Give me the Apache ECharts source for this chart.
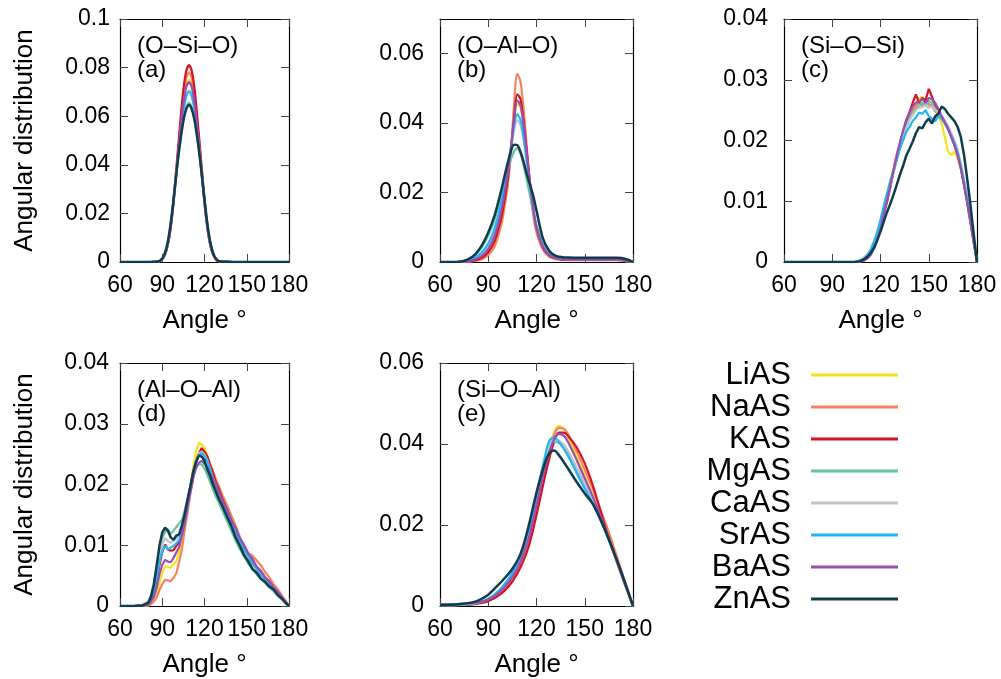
<!DOCTYPE html>
<html><head><meta charset="utf-8">
<script src="https://cdn.jsdelivr.net/npm/echarts@6/dist/echarts.min.js"></script>
<style>html,body{margin:0;padding:0;background:#fff}#c{width:1001px;height:679px}</style>
</head><body><div id="c"></div><script>
const FONT = 'Liberation Sans, Arial, Helvetica, sans-serif';
const names = ['LiAS', 'NaAS', 'KAS', 'MgAS', 'CaAS', 'SrAS', 'BaAS', 'ZnAS'];
const colors = ['#f5e11e', '#f5845a', '#d41424', '#66c2a0', '#c0c3c7', '#25b5f5', '#9650b5', '#103c4c'];
const panelTitles = ['(O\u2013Si\u2013O)', '(O\u2013Al\u2013O)', '(Si\u2013O\u2013Si)', '(Al\u2013O\u2013Al)', '(Si\u2013O\u2013Al)'];
const panelLetters = ['(a)', '(b)', '(c)', '(d)', '(e)'];
const xTicks = [60, 90, 120, 150, 180];
const yMax = [0.1, 0.07, 0.04, 0.04, 0.06];
const yStep = [0.02, 0.02, 0.01, 0.01, 0.02];

// (a) O-Si-O
const A_x = [60, 80, 85, 87, 89, 91, 93, 95, 97, 99, 101, 103, 105, 107, 109, 111, 113, 115, 117, 119, 121, 123, 125, 127, 129, 131, 135, 140, 180];
const A_Li = [0, 0, 0.0001, 0.0002, 0.0007, 0.0021, 0.005, 0.0103, 0.0188, 0.0302, 0.0427, 0.055, 0.0658, 0.0728, 0.075, 0.0728, 0.0658, 0.055, 0.0427, 0.0302, 0.0188, 0.0103, 0.005, 0.0021, 0.0007, 0.0002, 0.0001, 0, 0];
const A_Na = [0, 0, 0.0001, 0.0002, 0.0007, 0.002, 0.0049, 0.0102, 0.0188, 0.0305, 0.0435, 0.0565, 0.068, 0.0755, 0.078, 0.0755, 0.068, 0.0565, 0.0435, 0.0305, 0.0188, 0.0102, 0.0049, 0.002, 0.0007, 0.0002, 0.0001, 0, 0];
const A_K = [0, 0, 0.0001, 0.0002, 0.0007, 0.002, 0.005, 0.0105, 0.0195, 0.032, 0.0455, 0.059, 0.071, 0.0785, 0.081, 0.0785, 0.071, 0.059, 0.0458, 0.0325, 0.02, 0.0108, 0.0052, 0.0021, 0.0007, 0.0002, 0.0001, 0, 0];
const A_Mg = [0, 0, 0.0001, 0.0003, 0.0009, 0.0025, 0.0059, 0.0119, 0.0206, 0.0312, 0.0418, 0.051, 0.0586, 0.0636, 0.0655, 0.0636, 0.0586, 0.051, 0.0418, 0.0312, 0.0206, 0.0119, 0.0059, 0.0025, 0.0009, 0.0003, 0.0001, 0, 0];
const A_Ca = [0, 0, 0.0001, 0.0002, 0.0008, 0.0022, 0.0053, 0.0109, 0.0195, 0.0305, 0.042, 0.053, 0.0625, 0.0685, 0.0705, 0.0685, 0.0625, 0.053, 0.042, 0.0305, 0.0195, 0.0109, 0.0053, 0.0022, 0.0008, 0.0002, 0.0001, 0, 0];
const A_Sr = [0, 0, 0.0001, 0.0002, 0.0008, 0.0023, 0.0054, 0.011, 0.0195, 0.0305, 0.0419, 0.0528, 0.0622, 0.068, 0.07, 0.068, 0.0622, 0.0528, 0.0419, 0.0305, 0.0195, 0.011, 0.0054, 0.0023, 0.0008, 0.0002, 0.0001, 0, 0];
const A_Ba = [0, 0, 0.0001, 0.0002, 0.0007, 0.0021, 0.005, 0.0104, 0.0189, 0.0302, 0.0425, 0.0545, 0.065, 0.0718, 0.074, 0.0718, 0.065, 0.0545, 0.0425, 0.0302, 0.0189, 0.0104, 0.005, 0.0021, 0.0007, 0.0002, 0.0001, 0, 0];
const A_Zn = [0, 0, 0.0001, 0.0002, 0.0008, 0.0024, 0.0058, 0.0118, 0.0205, 0.031, 0.0415, 0.0505, 0.058, 0.0628, 0.0646, 0.0628, 0.058, 0.0505, 0.0415, 0.031, 0.0205, 0.0118, 0.0058, 0.0024, 0.0008, 0.0002, 0.0001, 0, 0];

// (b) O-Al-O
const B_x = [60, 70, 74, 78, 82, 86, 90, 94, 98, 100, 102, 104, 106, 108, 110, 112, 114, 116, 118, 120, 124, 128, 132, 136, 140, 150, 160, 170, 176, 180];
const B_Li = [0, 0, 0, 0.0002, 0.0006, 0.0014, 0.0032, 0.0068, 0.0135, 0.0185, 0.024, 0.0315, 0.0398, 0.0455, 0.0445, 0.039, 0.031, 0.0225, 0.0152, 0.0099, 0.0043, 0.0019, 0.001, 0.0007, 0.0006, 0.0006, 0.0006, 0.0006, 0.0004, 0];
const B_Na = [0, 0, 0, 0.0001, 0.0003, 0.0008, 0.002, 0.0045, 0.0105, 0.0155, 0.0215, 0.031, 0.045, 0.0542, 0.052, 0.044, 0.033, 0.0215, 0.0135, 0.0085, 0.0035, 0.0015, 0.0008, 0.0006, 0.0005, 0.0005, 0.0005, 0.0005, 0.0003, 0];
const B_K = [0, 0, 0, 0.0002, 0.0005, 0.0012, 0.0028, 0.006, 0.0125, 0.0175, 0.0235, 0.0315, 0.041, 0.0483, 0.047, 0.0405, 0.0315, 0.0225, 0.015, 0.0098, 0.0042, 0.0018, 0.001, 0.0007, 0.0006, 0.0006, 0.0006, 0.0006, 0.0004, 0];
const B_Mg = [0, 0, 0.0002, 0.0008, 0.002, 0.0042, 0.0076, 0.0123, 0.0188, 0.0225, 0.0262, 0.0295, 0.0318, 0.0328, 0.0312, 0.0278, 0.0235, 0.019, 0.0145, 0.0106, 0.0055, 0.0029, 0.0017, 0.0013, 0.0012, 0.0011, 0.0011, 0.0011, 0.0007, 0];
const B_Ca = [0, 0, 0.0001, 0.0004, 0.0011, 0.0025, 0.0048, 0.009, 0.016, 0.0208, 0.026, 0.0318, 0.0378, 0.0408, 0.0395, 0.035, 0.0285, 0.0215, 0.0152, 0.0102, 0.0047, 0.0022, 0.0012, 0.0009, 0.0008, 0.0008, 0.0008, 0.0008, 0.0005, 0];
const B_Sr = [0, 0, 0.0001, 0.0005, 0.0013, 0.0028, 0.0053, 0.0098, 0.0168, 0.0215, 0.0268, 0.0328, 0.0392, 0.0425, 0.041, 0.036, 0.029, 0.0218, 0.0153, 0.0102, 0.0047, 0.0022, 0.0012, 0.0009, 0.0008, 0.0008, 0.0008, 0.0008, 0.0005, 0];
const B_Ba = [0, 0, 0.0001, 0.0003, 0.0008, 0.0018, 0.0038, 0.0076, 0.0145, 0.0195, 0.025, 0.0325, 0.0408, 0.0465, 0.0452, 0.0395, 0.0312, 0.0226, 0.0153, 0.01, 0.0044, 0.002, 0.0011, 0.0008, 0.0007, 0.0007, 0.0007, 0.0007, 0.0005, 0];
const B_Zn = [0, 0, 0.0002, 0.0009, 0.0023, 0.0048, 0.0085, 0.0135, 0.0205, 0.0245, 0.0283, 0.0318, 0.0338, 0.0337, 0.0318, 0.0288, 0.0252, 0.0222, 0.019, 0.0148, 0.0068, 0.0032, 0.0018, 0.0014, 0.0013, 0.0012, 0.0012, 0.0012, 0.0008, 0];

// (c) Si-O-Si
const C_x = [60, 100, 104, 106, 108, 110, 112, 114, 116, 118, 120, 122, 124, 126, 128, 130, 132, 134, 136, 138, 140, 142, 144, 146, 148, 150, 152, 154, 156, 158, 160, 162, 164, 166, 168, 170, 172, 174, 176, 178, 180];
const C_Li = [0, 0, 0, 0.0001, 0.0002, 0.0005, 0.001, 0.0019, 0.0031, 0.0047, 0.0066, 0.0088, 0.0112, 0.0135, 0.0152, 0.0176, 0.0193, 0.0212, 0.023, 0.0243, 0.0252, 0.0262, 0.027, 0.0272, 0.0264, 0.0258, 0.0262, 0.0255, 0.0242, 0.0228, 0.0205, 0.0182, 0.0176, 0.0181, 0.017, 0.0152, 0.0128, 0.01, 0.0068, 0.0034, 0];
const C_Na = [0, 0, 0, 0.0001, 0.0002, 0.0005, 0.001, 0.0018, 0.003, 0.0045, 0.0063, 0.0084, 0.0106, 0.0128, 0.0152, 0.0176, 0.0196, 0.0214, 0.0228, 0.024, 0.025, 0.0256, 0.0262, 0.0258, 0.0264, 0.026, 0.0256, 0.0248, 0.0244, 0.0236, 0.0228, 0.0218, 0.0206, 0.0194, 0.0178, 0.0156, 0.013, 0.0101, 0.0069, 0.0035, 0];
const C_K = [0, 0, 0, 0, 0.0001, 0.0003, 0.0007, 0.0014, 0.0025, 0.004, 0.0058, 0.008, 0.0098, 0.0122, 0.0148, 0.0168, 0.0192, 0.0214, 0.0232, 0.0246, 0.0262, 0.0276, 0.0262, 0.027, 0.0266, 0.0285, 0.0272, 0.0258, 0.0246, 0.024, 0.023, 0.0222, 0.0206, 0.0192, 0.0176, 0.0154, 0.0126, 0.0096, 0.0064, 0.0032, 0];
const C_Mg = [0, 0, 0, 0.0001, 0.0002, 0.0005, 0.001, 0.0018, 0.003, 0.0045, 0.0062, 0.0082, 0.0102, 0.0124, 0.0146, 0.0168, 0.0188, 0.0206, 0.0222, 0.0236, 0.0246, 0.0252, 0.0256, 0.0262, 0.0258, 0.0265, 0.0262, 0.0252, 0.0246, 0.024, 0.0232, 0.0222, 0.021, 0.0198, 0.018, 0.0158, 0.0131, 0.0101, 0.0069, 0.0035, 0];
const C_Ca = [0, 0, 0, 0.0002, 0.0004, 0.0008, 0.0013, 0.0021, 0.0033, 0.0048, 0.0066, 0.0085, 0.0104, 0.0126, 0.0148, 0.0169, 0.0188, 0.0205, 0.022, 0.0233, 0.0242, 0.025, 0.0254, 0.0255, 0.0258, 0.0254, 0.0256, 0.025, 0.0246, 0.024, 0.0233, 0.0224, 0.0212, 0.02, 0.0184, 0.0162, 0.0134, 0.0104, 0.007, 0.0035, 0];
const C_Sr = [0, 0, 0, 0.0001, 0.0003, 0.0006, 0.0012, 0.0021, 0.0034, 0.005, 0.007, 0.0092, 0.0112, 0.0132, 0.015, 0.0168, 0.0186, 0.02, 0.0214, 0.0222, 0.0232, 0.0238, 0.0246, 0.0244, 0.025, 0.024, 0.0236, 0.0232, 0.024, 0.0236, 0.0228, 0.0218, 0.0208, 0.0196, 0.018, 0.0158, 0.0131, 0.01, 0.0067, 0.0033, 0];
const C_Ba = [0, 0, 0, 0, 0.0001, 0.0003, 0.0006, 0.0012, 0.0022, 0.0037, 0.0056, 0.0078, 0.01, 0.0124, 0.015, 0.0174, 0.0196, 0.0216, 0.0234, 0.0246, 0.0256, 0.0262, 0.0264, 0.0268, 0.0262, 0.027, 0.0268, 0.0262, 0.0252, 0.024, 0.023, 0.022, 0.0206, 0.0192, 0.0176, 0.0154, 0.0126, 0.0096, 0.0064, 0.0032, 0];
const C_Zn = [0, 0, 0, 0.0001, 0.0002, 0.0005, 0.0009, 0.0015, 0.0024, 0.0036, 0.005, 0.0066, 0.0082, 0.0095, 0.011, 0.0126, 0.0143, 0.0158, 0.0175, 0.0186, 0.0198, 0.0212, 0.0222, 0.022, 0.023, 0.0236, 0.0228, 0.024, 0.0244, 0.0256, 0.0252, 0.0244, 0.0238, 0.0232, 0.0222, 0.0205, 0.0175, 0.0135, 0.0092, 0.0045, 0];

// (d) Al-O-Al
const D_x = [60, 70, 76, 80, 82, 84, 86, 88, 90, 92, 94, 96, 98, 100, 102, 104, 106, 108, 110, 112, 114, 116, 118, 120, 122, 124, 126, 128, 130, 133, 136, 139, 142, 145, 148, 151, 154, 157, 160, 163, 166, 169, 172, 175, 178, 180];
const D_Li = [0, 0, 0, 0.0001, 0.0004, 0.001, 0.002, 0.0038, 0.0055, 0.0066, 0.0064, 0.0063, 0.0069, 0.0074, 0.0089, 0.0109, 0.0139, 0.0167, 0.0199, 0.0229, 0.0254, 0.0269, 0.0266, 0.0261, 0.0247, 0.0233, 0.0215, 0.0201, 0.0185, 0.0169, 0.0151, 0.0137, 0.0119, 0.0105, 0.0089, 0.0078, 0.0065, 0.0058, 0.0048, 0.0042, 0.0033, 0.0028, 0.0019, 0.0012, 0.0005, 0];
const D_Na = [0, 0, 0, 0.0001, 0.0003, 0.0007, 0.0014, 0.0026, 0.0036, 0.0043, 0.0042, 0.0041, 0.0046, 0.0054, 0.0073, 0.0094, 0.0126, 0.0154, 0.0186, 0.0211, 0.0236, 0.0247, 0.0256, 0.0251, 0.0246, 0.0234, 0.0223, 0.0209, 0.0199, 0.0181, 0.0166, 0.0149, 0.0133, 0.0114, 0.0099, 0.0087, 0.0083, 0.0075, 0.0067, 0.0056, 0.0047, 0.0036, 0.0028, 0.0017, 0.0007, 0];
const D_K = [0, 0, 0.0001, 0.0003, 0.0009, 0.002, 0.0041, 0.0067, 0.0089, 0.0101, 0.0093, 0.0091, 0.0092, 0.0099, 0.0104, 0.0121, 0.0141, 0.0169, 0.0194, 0.0221, 0.0239, 0.0251, 0.026, 0.0254, 0.0246, 0.0231, 0.0219, 0.0204, 0.0193, 0.0174, 0.0159, 0.0141, 0.0126, 0.0109, 0.0099, 0.0084, 0.0075, 0.0064, 0.0057, 0.0047, 0.004, 0.003, 0.0022, 0.0014, 0.0006, 0];
const D_Mg = [0, 0, 0.0002, 0.0007, 0.0018, 0.0036, 0.0062, 0.009, 0.0112, 0.0122, 0.0126, 0.0119, 0.0124, 0.013, 0.0136, 0.0142, 0.0158, 0.0176, 0.0198, 0.0214, 0.0229, 0.0234, 0.0233, 0.0226, 0.0216, 0.0204, 0.0192, 0.018, 0.0171, 0.0155, 0.014, 0.0124, 0.0108, 0.0094, 0.0082, 0.007, 0.0061, 0.0052, 0.0045, 0.0038, 0.0031, 0.0025, 0.0017, 0.0011, 0.0004, 0];
const D_Ca = [0, 0, 0.0001, 0.0005, 0.0014, 0.003, 0.0054, 0.0081, 0.0101, 0.0112, 0.0107, 0.0104, 0.0107, 0.0111, 0.0118, 0.0131, 0.0151, 0.0175, 0.0197, 0.0222, 0.024, 0.0251, 0.0254, 0.0249, 0.0239, 0.0224, 0.0209, 0.0197, 0.0184, 0.0167, 0.015, 0.0136, 0.0119, 0.0105, 0.0091, 0.008, 0.0068, 0.006, 0.005, 0.0043, 0.0035, 0.0028, 0.0019, 0.0012, 0.0005, 0];
const D_Sr = [0, 0, 0.0001, 0.0004, 0.0011, 0.0025, 0.0046, 0.0072, 0.0091, 0.0099, 0.0093, 0.0096, 0.0099, 0.0103, 0.0109, 0.0124, 0.0148, 0.0171, 0.0198, 0.0219, 0.0238, 0.0247, 0.0252, 0.0247, 0.0238, 0.0226, 0.0211, 0.02, 0.0186, 0.017, 0.0152, 0.0139, 0.0121, 0.0108, 0.0093, 0.0083, 0.007, 0.0062, 0.0052, 0.0045, 0.0036, 0.0029, 0.002, 0.0013, 0.0005, 0];
const D_Ba = [0, 0, 0.0001, 0.0002, 0.0007, 0.0015, 0.003, 0.0052, 0.0068, 0.0076, 0.0073, 0.0072, 0.0079, 0.0088, 0.0097, 0.0116, 0.0137, 0.0163, 0.0187, 0.0211, 0.0227, 0.0236, 0.0239, 0.0234, 0.0229, 0.0217, 0.0209, 0.0197, 0.0189, 0.0171, 0.0159, 0.0141, 0.0129, 0.0112, 0.0101, 0.0087, 0.0078, 0.0065, 0.0058, 0.0047, 0.0041, 0.0031, 0.0024, 0.0014, 0.0006, 0];
const D_Zn = [0, 0, 0.0001, 0.0005, 0.0015, 0.0035, 0.0066, 0.0099, 0.0121, 0.0129, 0.0124, 0.0113, 0.0109, 0.0116, 0.0118, 0.0133, 0.0151, 0.0176, 0.0197, 0.0221, 0.0237, 0.0248, 0.0246, 0.0239, 0.0225, 0.0214, 0.02, 0.0189, 0.0177, 0.0163, 0.0147, 0.0132, 0.0113, 0.01, 0.0084, 0.0074, 0.0061, 0.0055, 0.0045, 0.004, 0.0032, 0.0027, 0.0018, 0.0012, 0.0004, 0];

// (e) Si-O-Al
const E_x = [60, 70, 80, 85, 90, 95, 100, 105, 110, 115, 120, 125, 128, 131, 134, 137, 140, 145, 150, 155, 160, 165, 170, 175, 180];
const E_Li = [0.0001, 0.0002, 0.0005, 0.0008, 0.0014, 0.0025, 0.0042, 0.0068, 0.0105, 0.016, 0.0245, 0.0338, 0.039, 0.043, 0.0445, 0.0436, 0.0415, 0.0368, 0.032, 0.0272, 0.022, 0.0165, 0.0108, 0.0053, 0];
const E_Na = [0.0001, 0.0002, 0.0005, 0.0008, 0.0014, 0.0024, 0.004, 0.0065, 0.0101, 0.0155, 0.024, 0.0332, 0.0383, 0.0423, 0.044, 0.0438, 0.0422, 0.0382, 0.0336, 0.0288, 0.0236, 0.0182, 0.0122, 0.006, 0];
const E_K = [0.0001, 0.0002, 0.0004, 0.0007, 0.0012, 0.0022, 0.0037, 0.006, 0.0095, 0.0145, 0.0225, 0.0315, 0.0365, 0.0405, 0.0428, 0.0428, 0.0418, 0.0392, 0.0352, 0.0298, 0.0232, 0.0167, 0.0108, 0.0053, 0];
const E_Mg = [0.0002, 0.0003, 0.0006, 0.001, 0.0017, 0.003, 0.005, 0.0078, 0.0118, 0.0173, 0.026, 0.0345, 0.0392, 0.0405, 0.0402, 0.039, 0.0372, 0.0335, 0.0298, 0.026, 0.0213, 0.0162, 0.011, 0.0055, 0];
const E_Ca = [0.0002, 0.0003, 0.0006, 0.001, 0.0017, 0.003, 0.005, 0.0078, 0.0118, 0.0175, 0.0262, 0.035, 0.0395, 0.041, 0.0408, 0.0398, 0.038, 0.0342, 0.0302, 0.0262, 0.0215, 0.0163, 0.011, 0.0055, 0];
const E_Sr = [0.0002, 0.0003, 0.0006, 0.001, 0.0018, 0.0032, 0.0053, 0.0083, 0.0125, 0.0185, 0.0275, 0.0365, 0.0408, 0.0416, 0.0405, 0.0388, 0.0368, 0.0328, 0.029, 0.0252, 0.021, 0.0162, 0.011, 0.0055, 0];
const E_Ba = [0.0005, 0.0005, 0.0007, 0.001, 0.0016, 0.0028, 0.0046, 0.0072, 0.011, 0.0165, 0.025, 0.0335, 0.038, 0.0412, 0.0425, 0.042, 0.0402, 0.036, 0.0315, 0.027, 0.022, 0.0165, 0.011, 0.0055, 0];
const E_Zn = [0.0002, 0.0004, 0.0009, 0.0016, 0.0028, 0.0047, 0.0068, 0.0092, 0.0128, 0.0196, 0.028, 0.035, 0.0378, 0.0384, 0.0372, 0.0355, 0.0337, 0.0306, 0.0278, 0.0252, 0.0212, 0.0165, 0.0113, 0.0058, 0];

const panels = [
  { x: A_x, ys: [A_Li, A_Na, A_K, A_Mg, A_Ca, A_Sr, A_Ba, A_Zn], smooth: 0.3 },
  { x: B_x, ys: [B_Li, B_Na, B_K, B_Mg, B_Ca, B_Sr, B_Ba, B_Zn], smooth: 0.3 },
  { x: C_x, ys: [C_Li, C_Na, C_K, C_Mg, C_Ca, C_Sr, C_Ba, C_Zn], smooth: false },
  { x: D_x, ys: [D_Li, D_Na, D_K, D_Mg, D_Ca, D_Sr, D_Ba, D_Zn], smooth: false },
  { x: E_x, ys: [E_Li, E_Na, E_K, E_Mg, E_Ca, E_Sr, E_Ba, E_Zn], smooth: 0.4 }
];

// layout
const gridBoxes = [
  { left: 120, top: 19, width: 169, height: 243 },
  { left: 440, top: 19, width: 193, height: 243 },
  { left: 784, top: 19, width: 193, height: 243 },
  { left: 120, top: 363, width: 169, height: 243 },
  { left: 440, top: 363, width: 193, height: 243 }
];
const yLabelMargin = [10, 16, 16, 11, 16];
const showYName = [true, false, false, true, false];

const grid = [], xAxis = [], yAxis = [], series = [], graphic = [];
const tickStyle = { inside: true, length: 8, lineStyle: { color: '#444', width: 1 } };
const lineAx = { show: true, onZero: false, lineStyle: { color: '#000', width: 1.2 } };

panels.forEach((p, i) => {
  const g = gridBoxes[i];
  grid.push(Object.assign({ containLabel: false }, g));
  xAxis.push({
    gridIndex: i, type: 'value', min: xTicks[0], max: xTicks[xTicks.length - 1], interval: 30, position: 'bottom',
    axisLine: lineAx, axisTick: tickStyle, splitLine: { show: false },
    axisLabel: { color: '#000', fontSize: 23, fontFamily: FONT, margin: 12 },
    name: 'Angle \u00b0', nameLocation: 'middle', nameGap: 46,
    nameTextStyle: { color: '#000', fontSize: 26, fontFamily: FONT }
  });
  xAxis.push({
    gridIndex: i, type: 'value', min: xTicks[0], max: xTicks[xTicks.length - 1], interval: 30, position: 'top',
    axisLine: lineAx, axisTick: tickStyle, splitLine: { show: false }, axisLabel: { show: false }
  });
  yAxis.push({
    gridIndex: i, type: 'value', min: 0, max: yMax[i], interval: yStep[i], position: 'left',
    axisLine: lineAx, axisTick: tickStyle, splitLine: { show: false },
    axisLabel: { color: '#000', fontSize: 23, fontFamily: FONT, margin: yLabelMargin[i], showMaxLabel: i !== 1 },
    name: showYName[i] ? 'Angular distribution' : '', nameLocation: 'middle', nameGap: 82,
    nameTextStyle: { color: '#000', fontSize: 26, fontFamily: FONT }
  });
  yAxis.push({
    gridIndex: i, type: 'value', min: 0, max: yMax[i], interval: yStep[i], position: 'right',
    axisLine: lineAx, axisTick: tickStyle, splitLine: { show: false }, axisLabel: { show: false }
  });
  p.ys.forEach((vals, k) => {
    series.push({
      type: 'line', name: names[k], xAxisIndex: 2 * i, yAxisIndex: 2 * i,
      data: p.x.map((xv, j) => [xv, vals[j]]),
      showSymbol: false, symbol: 'none', smooth: p.smooth,
      lineStyle: { width: k === 7 ? 2.5 : 2.2, color: colors[k] },
      itemStyle: { color: colors[k] },
      z: 2 + k, animation: false
    });
  });
  graphic.push({ type: 'text', x: g.left + 17, y: g.top + 27, style: { text: panelTitles[i], fontSize: 24, fontFamily: FONT, fill: '#000', verticalAlign: 'middle' } });
  graphic.push({ type: 'text', x: g.left + 17, y: g.top + 51, style: { text: panelLetters[i], fontSize: 24, fontFamily: FONT, fill: '#000', verticalAlign: 'middle' } });
});

const chart = echarts.init(document.getElementById('c'), null, { renderer: 'canvas' });
chart.setOption({
  backgroundColor: '#fff',
  animation: false,
  grid, xAxis, yAxis, series, graphic,
  legend: {
    data: names, orient: 'vertical', right: 103, top: 359, padding: 0, itemGap: 0,
    align: 'right', icon: 'rect', itemWidth: 87, itemHeight: 3, selectedMode: false,
    textStyle: { color: '#000', fontSize: 31, fontFamily: FONT, lineHeight: 32, padding: [0, 15, 0, 0] }
  }
});
</script></body></html>
